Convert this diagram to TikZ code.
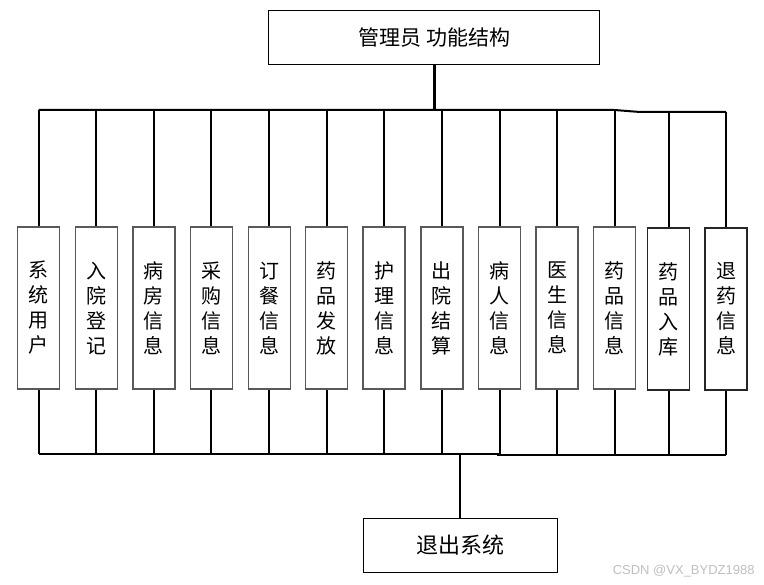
\documentclass[tikz,border=0pt]{standalone}
\usepackage{fontspec}
\setmainfont{Noto Sans CJK SC}
\newfontfamily\wmfont{Liberation Sans}
\begin{document}
\begin{tikzpicture}[x=1pt,y=-1pt,
  topbox/.style={draw=black,line width=1.3pt,fill=white,minimum width=331pt,minimum height=54pt,inner sep=0pt,font=\fontsize{21}{24}\selectfont},
  fbox/.style={draw=black!65,line width=1.5pt,fill=white,minimum width=42pt,minimum height=162pt,inner sep=0pt,align=center,font=\fontsize{20}{25}\selectfont},
  fboxd/.style={fbox,draw=black!85},
  conn/.style={line width=2pt,black}]
\useasboundingbox (0,0) rectangle (764,585);
\node[topbox] (top) at (434.3,37.3) {管理员 功能结构};
\node[fbox] (b1) at (38.7,308) {系\\统\\用\\户};
\node[fbox] (b2) at (96.3,308) {入\\院\\登\\记};
\node[fbox] (b3) at (153.8,308) {病\\房\\信\\息};
\node[fbox] (b4) at (211.3,308) {采\\购\\信\\息};
\node[fbox] (b5) at (269.3,308) {订\\餐\\信\\息};
\node[fbox] (b6) at (326.7,308) {药\\品\\发\\放};
\node[fbox] (b7) at (384.2,308) {护\\理\\信\\息};
\node[fbox] (b8) at (441.8,308) {出\\院\\结\\算};
\node[fbox] (b9) at (499.6,308) {病\\人\\信\\息};
\node[fbox] (b10) at (557,308) {医\\生\\信\\息};
\node[fbox] (b11) at (614.5,308) {药\\品\\信\\息};
\node[fboxd] (b12) at (668.5,309) {药\\品\\入\\库};
\node[fboxd] (b13) at (726,309) {退\\药\\信\\息};
\node[topbox,minimum width=194pt,minimum height=54pt,font=\fontsize{22}{24}\selectfont] (bot) at (460.2,545.5) {退出系统};
\node[font=\wmfont\fontsize{13}{14}\selectfont,text=black!25,inner sep=0pt] (wm) at (683.7,571.5) {CSDN @VX\_BYDZ1988};
% top connectors
\coordinate (tb) at (434.3,110);
\coordinate (tk) at (640,112);
\draw[conn,line width=3pt] (top.south) -- (top.south |- tb);
\draw[conn] (b1.north |- tb) -- (b11.north |- tb) -- (tk) -- (b13.north |- tk);
\foreach \i in {1,...,11}{\draw[conn] (b\i.north |- tb) -- (b\i.north);}
\foreach \i in {12,13}{\draw[conn] (b\i.north |- tk) -- (b\i.north);}
% bottom connectors
\coordinate (bb) at (460.2,454);
\coordinate (bk) at (497,455.3);
\draw[conn] (b1.south |- bb) -- (b9.south |- bb);
\draw[conn] (bk) -- (b13.south |- bk);
\foreach \i in {1,...,9}{\draw[conn] (b\i.south) -- (b\i.south |- bb);}
\foreach \i in {10,...,13}{\draw[conn] (b\i.south) -- (b\i.south |- bk);}
\draw[conn] (bb) -- (bot.north);
\end{tikzpicture}
\end{document}
